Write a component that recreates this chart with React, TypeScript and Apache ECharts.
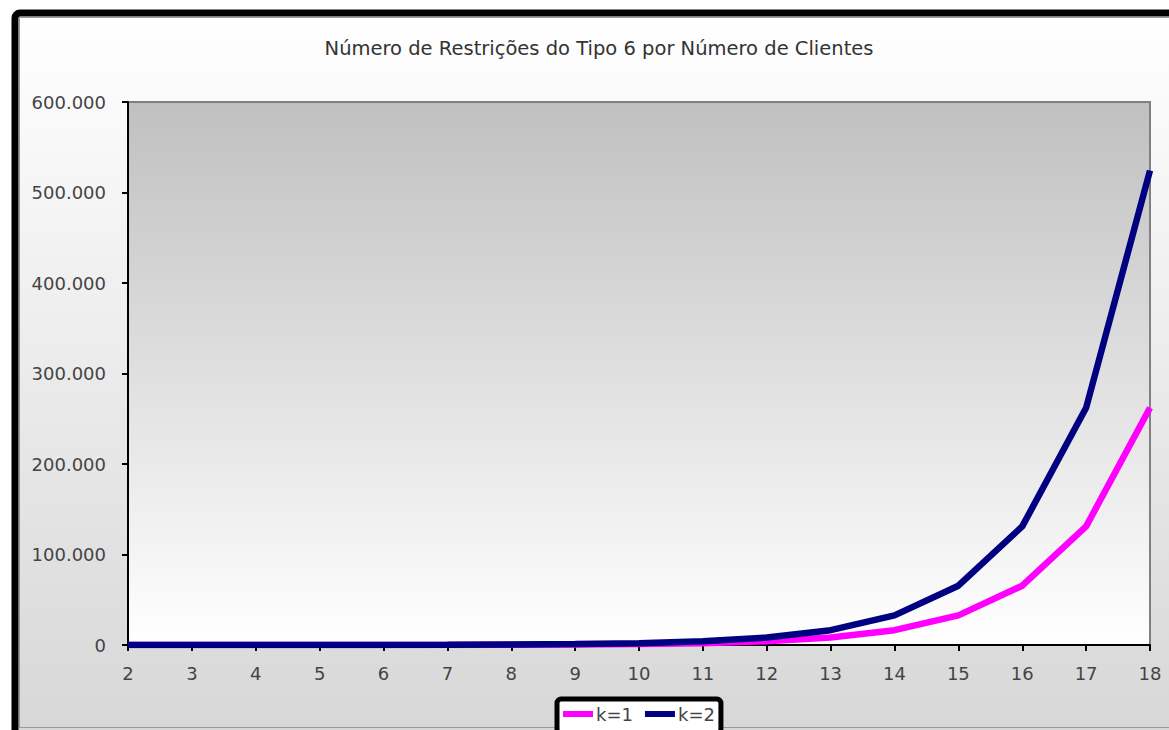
import React, { useEffect, useRef } from "react";
import * as echarts from "echarts";

const title = "Número de Restrições do Tipo 6 por Número de Clientes";
const categories = ["2", "3", "4", "5", "6", "7", "8", "9", "10", "11", "12", "13", "14", "15", "16", "17", "18"];
const seriesNames = ["k=1", "k=2"];
const k1 = [4, 8, 16, 32, 64, 128, 256, 512, 1024, 2048, 4096, 8192, 16384, 32768, 65536, 131072, 262144];
const k2 = [8, 16, 32, 64, 128, 256, 512, 1024, 2048, 4096, 8192, 16384, 32768, 65536, 131072, 262144, 524288];
const yMax = 600000;
const yStep = 100000;

const FONT = "DejaVu Sans";
const fmt = (v: number) => String(v).replace(/\B(?=(\d{3})+(?!\d))/g, ".");

export default function App() {
  const ref = useRef<HTMLDivElement>(null);
  useEffect(() => {
    if (!ref.current) return;
    const chart = echarts.init(ref.current, null, { renderer: "svg" });
    chart.setOption({
      animation: false,
      backgroundColor: "#ffffff",
      graphic: [
        {
          type: "rect",
          z: -10,
          shape: { x: 15, y: 13, width: 1180, height: 740, r: 5 },
          style: {
            fill: new echarts.graphic.LinearGradient(0, 0, 0, 1, [
              { offset: 0, color: "#ffffff" },
              { offset: 1, color: "#d6d6d6" },
            ]),
            stroke: "#000000",
            lineWidth: 7,
          },
        },
        {
          type: "rect",
          z: -9,
          shape: { x: 19.5, y: 17.5, width: 1170, height: 710 },
          style: { fill: "none", stroke: "#9a9a9a", lineWidth: 1 },
        },
      ],
      title: {
        text: title,
        left: 594,
        top: 33,
        textAlign: "center",
        textStyle: { fontFamily: FONT, fontSize: 19.5, fontWeight: "normal", color: "#333333" },
      },
      legend: {
        data: seriesNames,
        left: 557,
        top: 699,
        icon: "rect",
        itemWidth: 30,
        itemHeight: 6,
        itemGap: 12,
        padding: [6, 6, 10, 6],
        backgroundColor: "#ffffff",
        borderColor: "#000000",
        borderWidth: 5,
        borderRadius: 4,
        textStyle: { fontFamily: FONT, fontSize: 18, color: "#444444", padding: [0, 0, 0, -2] },
      },
      grid: {
        left: 128,
        right: 19,
        top: 102,
        bottom: 85,
        show: true,
        backgroundColor: new echarts.graphic.LinearGradient(0, 0, 0, 1, [
          { offset: 0, color: "#c0c0c0" },
          { offset: 1, color: "#ffffff" },
        ]),
        borderColor: "#808080",
        borderWidth: 2,
      },
      xAxis: {
        type: "category",
        data: categories,
        boundaryGap: false,
        axisLine: { show: true, lineStyle: { color: "#000000", width: 2 } },
        axisTick: { show: true, length: 6, lineStyle: { color: "#000000", width: 2 } },
        axisLabel: { fontFamily: FONT, fontSize: 18, color: "#444444", margin: 19 },
        splitLine: { show: false },
      },
      yAxis: {
        type: "value",
        min: 0,
        max: yMax,
        interval: yStep,
        axisLine: { show: true, lineStyle: { color: "#000000", width: 2 } },
        axisTick: { show: true, length: 6, lineStyle: { color: "#000000", width: 2 } },
        axisLabel: { fontFamily: FONT, fontSize: 18, color: "#444444", margin: 22, formatter: fmt },
        splitLine: { show: false },
      },
      series: [
        {
          name: seriesNames[0],
          type: "line",
          data: k1,
          symbol: "none",
          lineStyle: { color: "#ff00ff", width: 6.5 },
          itemStyle: { color: "#ff00ff" },
        },
        {
          name: seriesNames[1],
          type: "line",
          data: k2,
          symbol: "none",
          lineStyle: { color: "#000080", width: 6.5 },
          itemStyle: { color: "#000080" },
        },
      ],
    });
    return () => chart.dispose();
  }, []);
  return (
    <div
      ref={ref}
      style={{ position: "fixed", left: 0, top: 0, width: 1169, height: 730 }}
    />
  );
}
